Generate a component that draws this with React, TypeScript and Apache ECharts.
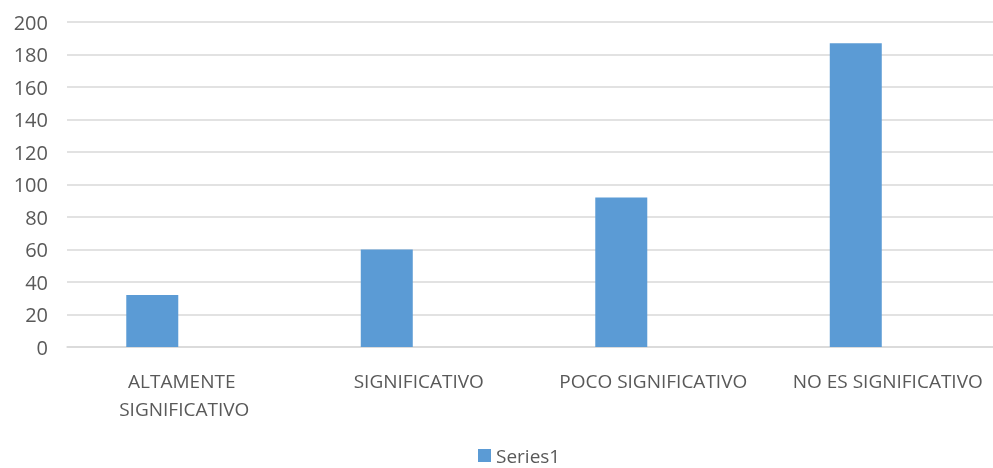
import React, { useEffect, useRef } from "react";
import * as echarts from "echarts";

const categories = ["ALTAMENTE SIGNIFICATIVO", "SIGNIFICATIVO", "POCO SIGNIFICATIVO", "NO ES SIGNIFICATIVO"];
const series1 = [32, 60, 92, 187];
const yMin = 0;
const yMax = 200;
const yInterval = 20;

export default function App() {
  const ref = useRef<HTMLDivElement>(null);
  useEffect(() => {
    if (!ref.current) return;
    const chart = echarts.init(ref.current, null, { renderer: "svg" });
    const font = "'Open Sans', sans-serif";
    chart.setOption({
      animation: false,
      grid: { left: 67, top: 22, width: 938, height: 325, containLabel: false },
      legend: {
        data: ["Series1"],
        top: 441,
        left: 473,
        itemWidth: 13,
        itemHeight: 13,
        itemGap: 8,
        icon: "rect",
        textStyle: { color: "#595959", fontSize: 19, fontFamily: font },
      },
      xAxis: {
        type: "category",
        data: categories,
        axisLine: { lineStyle: { color: "#d9d9d9", width: 1.5 } },
        axisTick: { show: false },
        axisLabel: {
          color: "#595959",
          fontSize: 19,
          fontFamily: font,
          margin: 20,
          lineHeight: 28,
          width: 228,
          overflow: "break",
          interval: 0,
        },
      },
      yAxis: {
        type: "value",
        min: yMin,
        max: yMax,
        interval: yInterval,
        axisLine: { show: false },
        axisTick: { show: false },
        splitLine: { lineStyle: { color: "#d9d9d9", width: 1.5 } },
        axisLabel: { color: "#595959", fontSize: 20, fontFamily: font, margin: 19 },
      },
      series: [
        {
          name: "Series1",
          type: "bar",
          data: series1,
          barWidth: 52,
          barGap: "23%",
          itemStyle: { color: "#5b9bd5" },
        },
        {
          name: "Hidden",
          type: "bar",
          data: categories.map(() => null),
          barWidth: 52,
          barGap: "23%",
          itemStyle: { color: "#ed7d31" },
        },
      ],
    });
    return () => chart.dispose();
  }, []);
  return (
    <div style={{ position: "fixed", left: 0, top: 0, width: 993, height: 468, overflow: "hidden" }}>
      <div ref={ref} style={{ width: 1012, height: 468 }} />
    </div>
  );
}
